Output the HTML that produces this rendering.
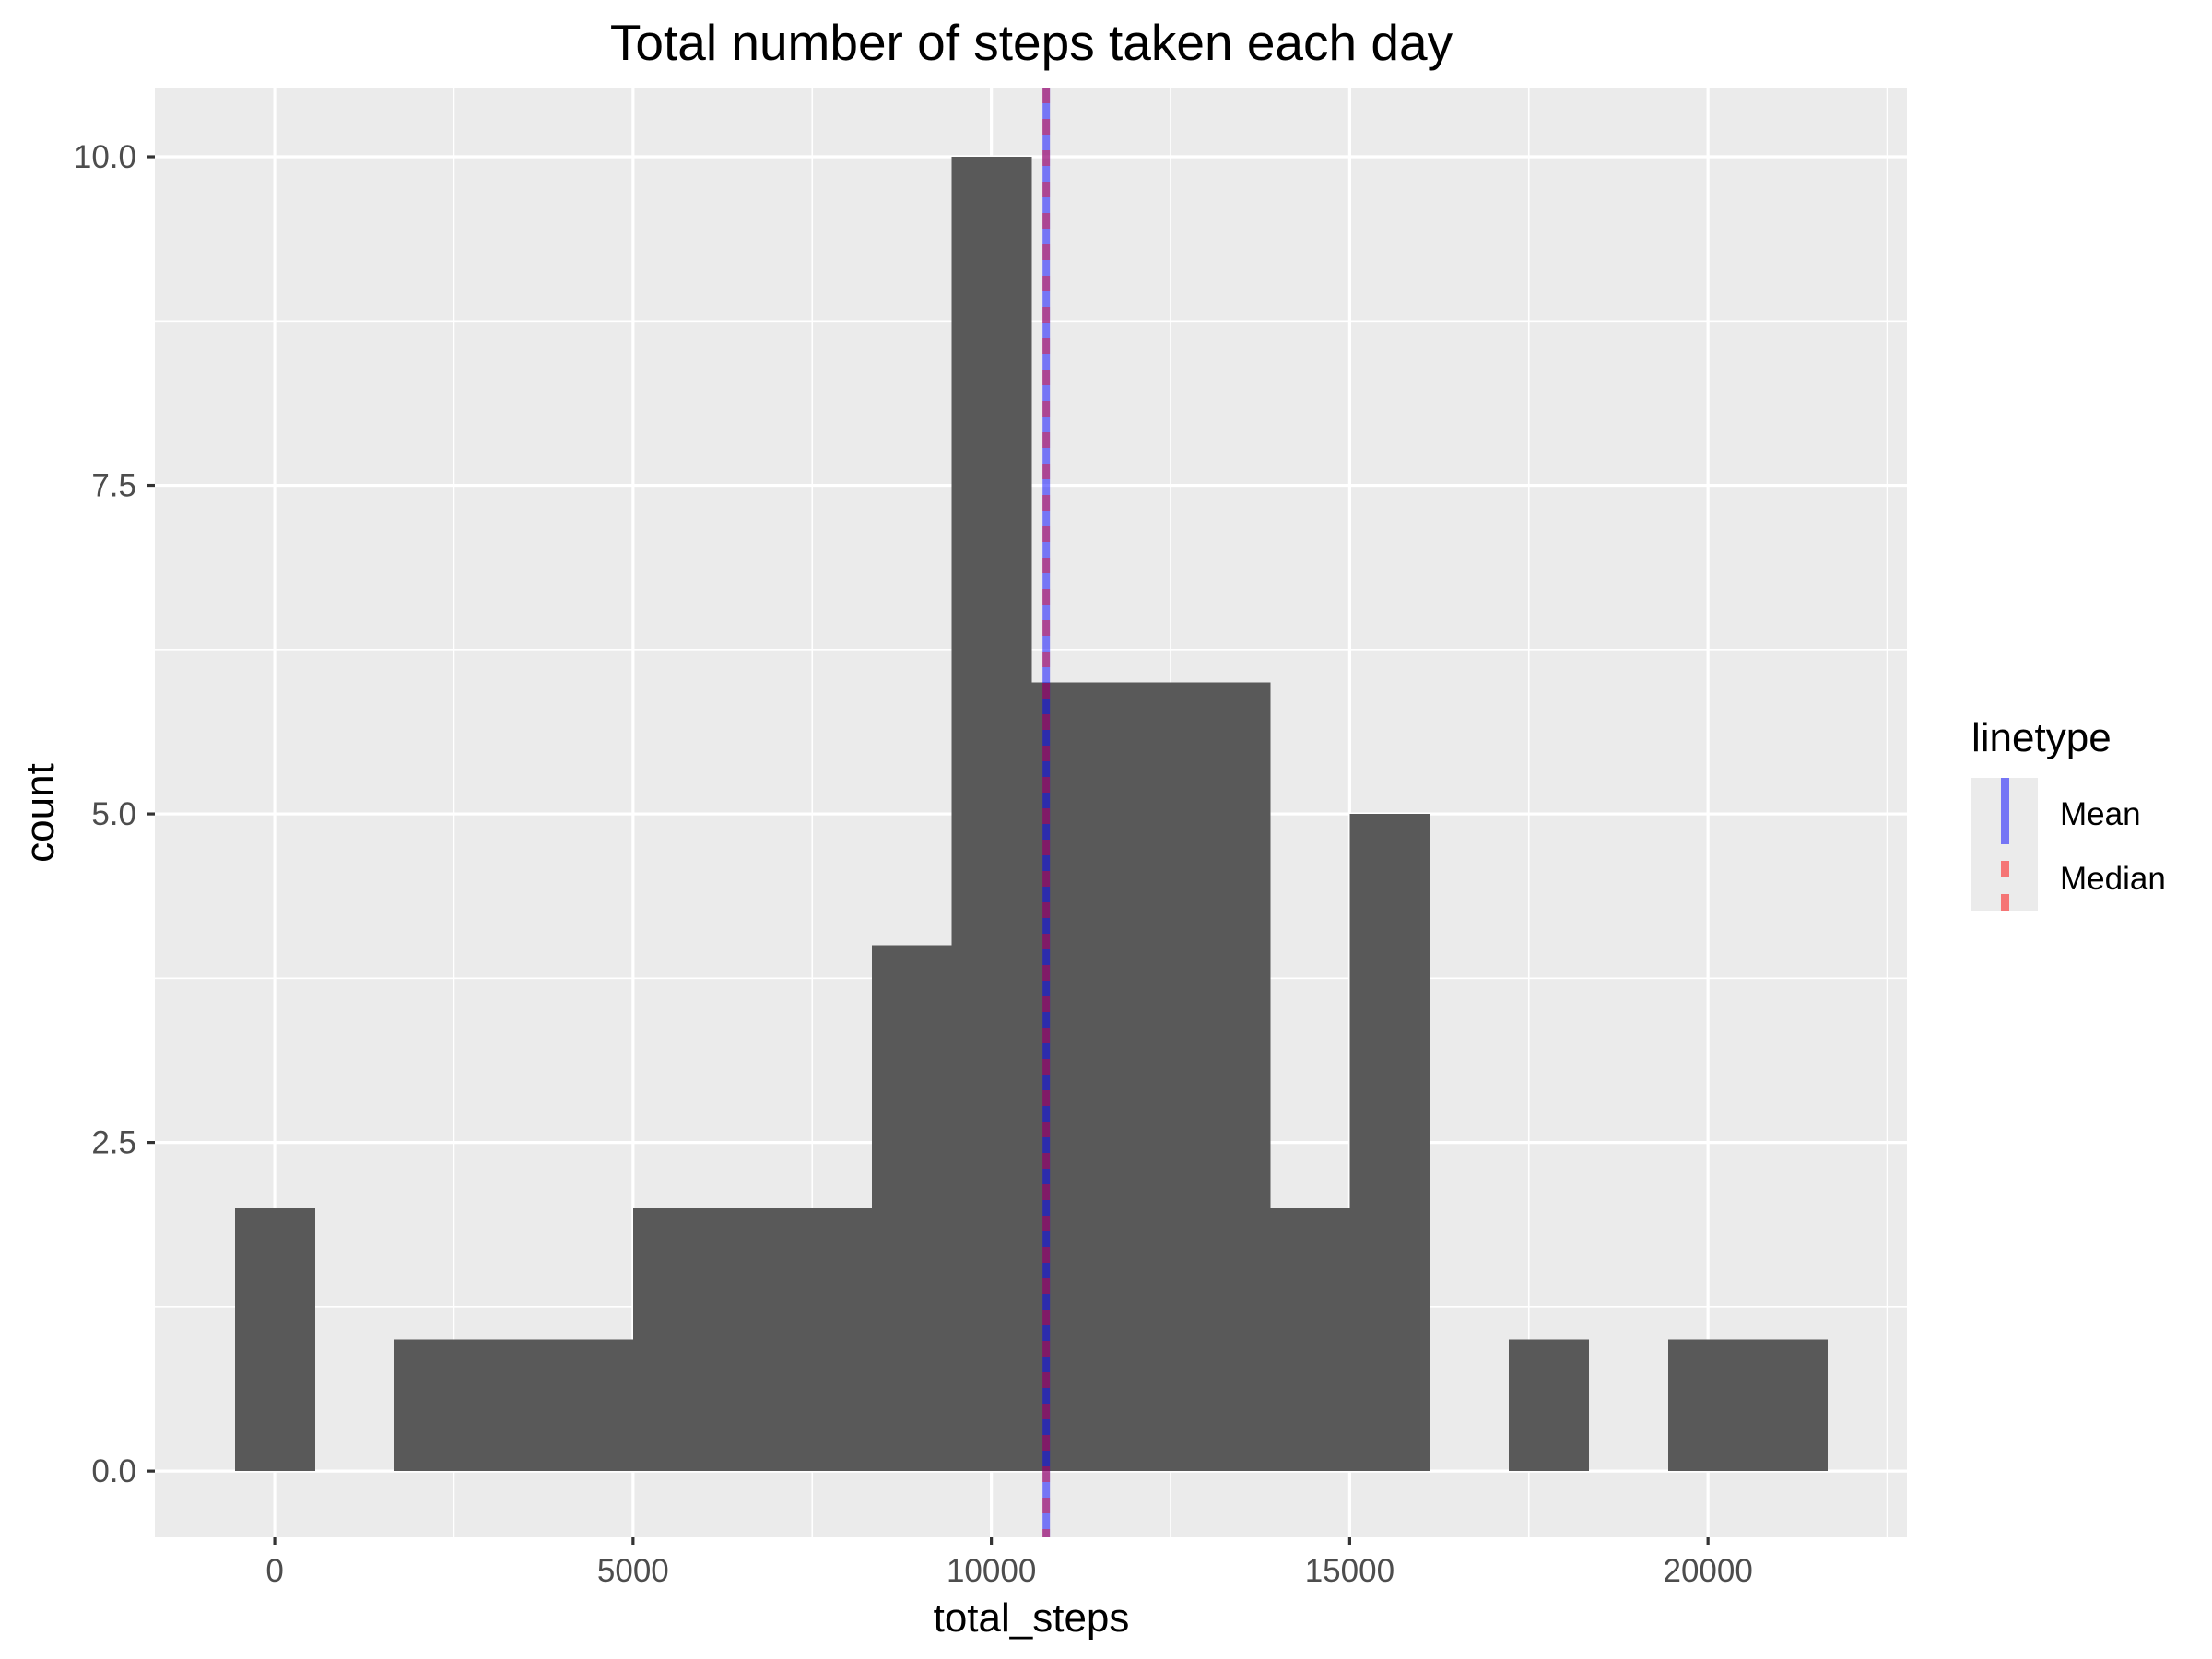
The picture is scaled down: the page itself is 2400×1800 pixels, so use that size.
<!DOCTYPE html>
<html><head><meta charset="utf-8"><style>body{margin:0;background:#fff}svg{display:block;font-family:"Liberation Sans",sans-serif}</style></head>
<body>
<svg id="chart" width="2400" height="1800"></svg>
<script>
const binCenters=[0,1,2,3,4,5,6,7,8,9,10,11,12,13,14,15,16,17,18,19];
const binCounts=[2,0,1,1,1,2,2,2,4,10,6,6,6,2,5,0,1,0,1,1];
const binWidth=1111;
const xTicks=[0,5000,10000,15000,20000];
const xTickLabels=["0","5000","10000","15000","20000"];
const yTicks=[0,2.5,5,7.5,10];
const yTickLabels=["0.0","2.5","5.0","7.5","10.0"];
const meanValue=10766;
const medianValue=10765;

const NS="http://www.w3.org/2000/svg";
const svg=document.getElementById('chart');
const PL=168,PR=2069,PT=95,PB=1668;
const xMin=-1673,xMax=22776,yMin=-0.504,yMax=10.526;
const X=v=>PL+(v-xMin)/(xMax-xMin)*(PR-PL);
const Y=v=>PB-(v-yMin)/(yMax-yMin)*(PB-PT);
function el(tag,attrs,parent){const e=document.createElementNS(NS,tag);for(const k in attrs)e.setAttribute(k,attrs[k]);(parent||svg).appendChild(e);return e;}

const panel=el('rect',{x:PL,y:PT,width:PR-PL,height:PB-PT,fill:'#ebebeb'});


for(let v=-2500;v<=25000;v+=5000){if(v<xMin||v>xMax)continue;const g=el('line',{x1:X(v),x2:X(v),y1:PT,y2:PB,stroke:'#fff','stroke-width':1.6});

}
for(let v=-1.25;v<=11;v+=2.5){if(v<yMin||v>yMax)continue;const g=el('line',{x1:PL,x2:PR,y1:Y(v),y2:Y(v),stroke:'#fff','stroke-width':1.6});

}
xTicks.forEach((v,i)=>{const g=el('line',{x1:X(v),x2:X(v),y1:PT,y2:PB,stroke:'#fff','stroke-width':3.2});


const t=el('line',{x1:X(v),x2:X(v),y1:PB,y2:PB+8,stroke:'#333','stroke-width':3.2});


const l=el('text',{x:X(v),y:PB+48,'text-anchor':'middle','font-size':35,fill:'#4d4d4d'});l.textContent=xTickLabels[i];

});
yTicks.forEach((v,i)=>{const g=el('line',{x1:PL,x2:PR,y1:Y(v),y2:Y(v),stroke:'#fff','stroke-width':3.2});


const t=el('line',{x1:PL-8,x2:PL,y1:Y(v),y2:Y(v),stroke:'#333','stroke-width':3.2});


const l=el('text',{x:PL-20,y:Y(v)+12,'text-anchor':'end','font-size':35,fill:'#4d4d4d'});l.textContent=yTickLabels[i];

});
binCenters.forEach((k,i)=>{const c=binCounts[i];if(!c)return;const c0=k*binWidth;
const b=el('rect',{x:X(c0-binWidth/2),y:Y(c),width:X(c0+binWidth/2)-X(c0-binWidth/2)+0.6,height:Y(0)-Y(c),fill:'#595959','shape-rendering':'crispEdges'});

});
const ml=el('line',{x1:X(meanValue),x2:X(meanValue),y1:PT,y2:PB,stroke:'#0000ff','stroke-opacity':0.5,'stroke-width':8});


const dl=el('line',{x1:X(medianValue),x2:X(medianValue),y1:PT,y2:PB,stroke:'#ff0000','stroke-opacity':0.4,'stroke-width':8,'stroke-dasharray':'17 17'});


</script>
<svg width="2400" height="1800" style="position:absolute;left:0;top:0" font-family="Liberation Sans, sans-serif">
<text x="1119" y="65" text-anchor="middle" font-size="55">Total number of steps taken each day</text>
<text x="1119" y="1770" text-anchor="middle" font-size="44">total_steps</text>
<text transform="translate(58,882) rotate(-90)" text-anchor="middle" font-size="44">count</text>
<g>
<text x="2139" y="815" font-size="44">linetype</text>
<rect x="2139" y="844" width="72" height="144" fill="#ebebeb"/>
<rect x="2171" y="844" width="9" height="72" fill="#0000ff" fill-opacity="0.5"/>
<rect x="2171" y="934" width="9" height="18" fill="#ff0000" fill-opacity="0.5"/>
<rect x="2171" y="970" width="9" height="18" fill="#ff0000" fill-opacity="0.5"/>
<text x="2235" y="895" font-size="35">Mean</text>
<text x="2235" y="965" font-size="35">Median</text>
</g>
</svg>
</body></html>
